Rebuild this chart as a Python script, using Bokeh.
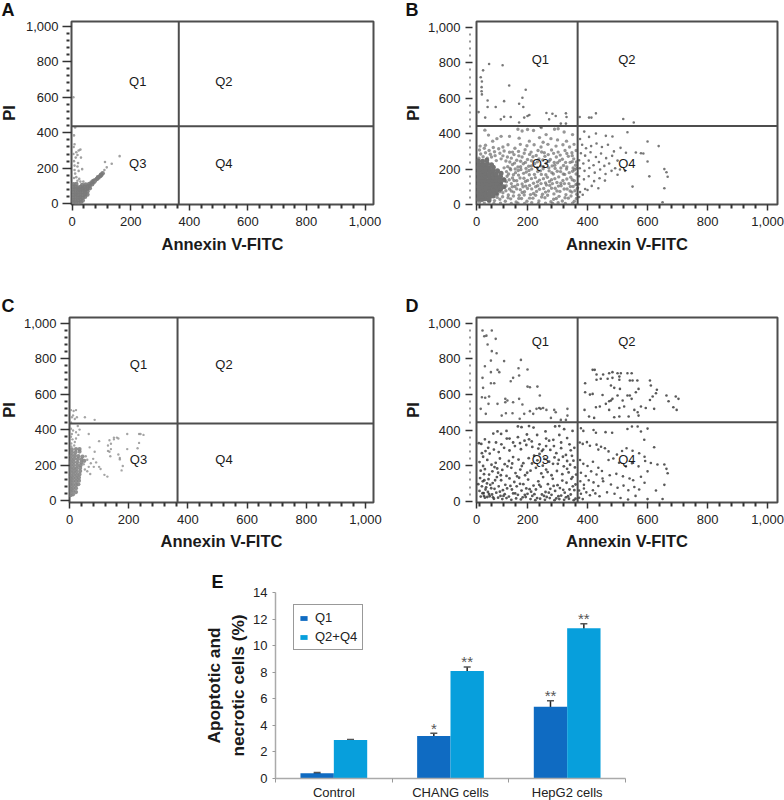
from bokeh.plotting import figure
from bokeh.embed import file_html
from bokeh.resources import INLINE
from bokeh.layouts import column, row
from bokeh.models import (Range1d, FixedTicker, Span, Label, Spacer, Legend, LegendItem,
                          Whisker, TeeHead, ColumnDataSource, Title)
from bokeh.core.properties import value

FONT = "Liberation Sans"
TICKS = [0, 200, 400, 600, 800, 1000]

a_core = [(4,8),(12,6),(22,5),(30,10),(4,22),(12,20),(20,22),(28,24),(36,18),(4,36),(12,38),(20,36),(28,38),(36,34),(44,40),(4,50),(12,52),(20,50),(28,52),(36,50),(44,54),(52,52),(4,66),(12,64),(20,66),(28,66),(36,68),(44,66),(52,70),(4,80),(12,82),(20,80),(28,80),(36,82),(44,80),(52,84),(60,88),(4,96),(12,94),(20,92),(28,94),(36,92),(44,96),(52,98),(60,102),(68,110),(4,110),(14,112),(34,106),(46,108),(58,112),(66,120),(74,122),(78,132),(84,140),(72,128),(90,148),(96,156),(88,150),(100,165),(104,172),(98,162)]
a_sparse = [(112,235),(135,225),(162,268),(118,205),(110,190),(80,125),(18,130),(28,125),(38,125),(6,145),(14,150),(24,140),(10,170),(8,190),(22,185),(34,195),(18,210),(8,215),(6,240),(14,290),(22,300),(28,305),(12,260),(30,260),(20,230),(8,335),(6,385),(10,430),(5,320),(4,280),(4,600),(18,275)]

c_core = [(4,30),(12,35),(4,50),(12,55),(22,48),(4,70),(12,72),(22,70),(4,90),(12,90),(22,88),(30,92),(4,108),(12,110),(22,108),(32,112),(4,126),(12,128),(22,126),(32,130),(4,144),(14,146),(24,144),(34,148),(4,162),(14,164),(24,162),(36,166),(4,180),(14,182),(24,180),(36,184),(4,198),(14,200),(26,198),(38,200),(4,216),(14,218),(26,216),(40,214),(6,234),(16,236),(28,234),(40,232),(50,224),(6,252),(18,254),(30,250),(44,248),(8,270),(20,272),(34,276),(8,288),(22,290),(34,290)]
c_sparse = [(6,305),(16,310),(6,322),(18,330),(10,345),(5,360),(22,350),(8,375),(30,370),(12,395),(5,405),(34,400),(22,385),(28,420),(5,440),(8,470),(14,505),(22,510),(12,480),(5,510),(25,470),(52,470),(85,455),(18,460),(55,250),(60,230),(48,205),(65,190),(72,210),(80,235),(52,175),(60,165),(70,150),(82,190),(90,215),(100,190),(105,178),(118,145),(128,135),(68,300),(65,375),(85,275),(100,335),(130,310),(135,340),(135,275),(140,320),(150,345),(160,355),(165,350),(140,290),(138,250),(165,260),(170,232),(180,195),(176,170),(195,375),(195,290),(235,375),(240,375),(250,370),(235,325),(230,295),(150,355),(170,240),(130,280)]

b_core = [(36,30),(48,28),(60,32),(72,26),(38,48),(50,46),(62,50),(74,44),(86,48),(36,66),(48,64),(60,68),(72,62),(84,66),(96,64),(38,84),(50,82),(62,86),(74,80),(86,84),(98,82),(110,86),(36,102),(48,100),(60,104),(72,98),(84,102),(96,100),(108,104),(120,100),(38,120),(50,118),(62,122),(74,116),(86,120),(98,118),(110,122),(36,138),(48,136),(60,140),(72,134),(84,138),(96,136),(108,140),(122,138),(38,156),(50,154),(62,158),(74,152),(86,156),(98,154),(110,158),(36,174),(48,172),(60,176),(72,170),(84,174),(96,172),(112,176),(38,192),(50,190),(62,194),(74,188),(86,192),(100,190),(36,210),(48,208),(60,212),(72,206),(86,210),(38,228),(52,226),(66,230),(80,224),(36,246),(50,244),(64,250)]
b_q3 = [(38,262),(52,270),(66,262),(80,268),(44,285),(60,292),(76,284),(92,276),(40,308),(56,318),(72,305),(90,298),(108,290),(42,330),(60,335),(86,322),(104,315),(122,302),(140,295),(118,325),(135,338),(158,318),(176,340),(198,332),(222,338),(245,325),(268,340),(295,330),(318,338),(340,325),(355,340),(150,296),(170,300),(192,310),(212,296),(235,305),(256,292),(280,308),(302,296),(325,305),(348,292),(362,305),
(96,248),(112,258),(128,246),(146,262),(164,250),(182,268),(200,254),(218,270),(238,258),(258,272),(276,254),(296,268),(316,256),(336,272),(354,258),
(134,214),(150,226),(168,212),(186,230),(204,216),(224,232),(244,218),(262,234),(282,218),(300,236),(320,220),(342,238),(360,222),
(130,186),(144,196),(160,180),(178,198),(196,184),(214,200),(234,186),(252,202),(272,190),(292,204),(310,186),(330,200),(350,188),(364,204),
(132,160),(150,150),(170,166),(188,148),(206,168),(226,152),(246,170),(266,154),(286,172),(304,156),(324,170),(344,154),(362,172),
(130,128),(146,118),(164,134),(182,116),(200,136),(220,120),(240,138),(260,122),(280,140),(298,124),(318,136),(338,118),(356,134),
(124,96),(140,88),(158,102),(176,84),(194,104),(214,88),(234,106),(254,90),(274,108),(292,92),(312,106),(332,88),(352,102),(366,90),
(100,56),(118,66),(136,54),(154,70),(172,52),(190,72),(210,56),(230,74),(250,58),(270,76),(288,60),(308,74),(328,56),(348,70),(364,58),
(90,22),(108,30),(126,18),(144,32),(162,14),(180,34),(198,18),(218,36),(238,20),(258,38),(278,16),(296,34),(316,20),(336,36),(356,18),
(40,12),(56,8),(72,14),(88,6),(110,8),(146,6),(168,8),(190,6),(214,10),(236,6),(260,8),(284,6),(302,10),(326,6),(350,8),
(84,358),(98,372),(112,385),(70,392),(58,420),(168,425),(182,415),(200,424),(220,418),(140,385),(172,375),(240,378),(206,358),(252,352),(278,372),(300,365),(330,358),(350,395),(290,425),(302,428),(262,395),(322,410),(246,435),
(118,275),(133,268),(155,282),(171,275),(189,290),(207,283),(229,277),(247,297),(269,282),(287,289),(309,279),(331,288),(349,276),(141,240),(157,234),(177,244),(193,238),(213,247),(233,241),(251,252),(271,244),(289,238),(307,247),(327,238),(349,242),(363,240),
(122,207),(142,204),(159,201),(177,213),(195,204),(213,218),(233,208),(253,214),(271,207),(291,222),(311,206),(331,212),(352,206),(137,172),(153,168),(169,192),(187,176),(205,192),(223,170),(243,190),(261,168),(281,180),(299,188),(319,172),(339,180),(357,196),
(121,146),(139,140),(155,136),(175,150),(193,130),(213,146),(233,128),(253,146),(273,130),(291,146),(311,120),(331,144),(349,140),(365,116),(113,118),(129,106),(149,100),(167,112),(185,100),(207,108),(227,100),(245,118),(263,110),(283,118),(303,104),(323,118),(343,102),(361,112),
(108,72),(128,78),(146,76),(164,88),(182,68),(200,90),(220,62),(240,86),(260,70),(280,92),(298,76),(322,88),(342,76),(358,78),(99,40),(117,44),(135,38),(153,48),(171,34),(189,54),(207,36),(227,52),(247,42),(267,52),(287,30),(305,46),(325,38),(345,48),(363,34)]
b_q4 = [(389,412),(428,401),(405,382),(461,388),(483,384),(533,408),(600,356),(637,330),(578,290),(586,288),(561,294),(600,243),(656,200),(663,182),(667,157),(606,159),(656,92),(550,101),(650,13),(375,370),(382,338),(395,318),(412,330),(430,345),(448,325),(468,338),(488,300),(510,320),(528,292),(378,290),(392,276),(410,295),(428,268),(445,288),(462,262),(482,275),(500,248),(372,250),(386,232),(404,248),(420,222),(438,240),(456,218),(472,232),(492,205),(508,198),(525,190),(374,205),(390,190),(406,206),(424,180),(442,198),(460,172),(480,190),(500,168),(372,160),(388,142),(404,160),(422,132),(440,148),(458,135),(372,115),(392,88),(414,105),(436,92),(375,70),(384,55),(400,82),(372,42),(368,95)]
b_q1q2 = [(72,794),(117,787),(52,758),(44,719),(48,695),(139,672),(194,648),(47,663),(47,640),(48,622),(67,588),(122,584),(183,603),(172,569),(186,551),(37,522),(67,551),(94,551),(59,491),(111,481),(122,496),(144,494),(189,491),(200,500),(206,506),(263,517),(283,513),(294,500),(328,515),(330,494),(272,481),(311,457),(328,457),(172,463),(244,438),(374,494),(405,491),(413,491),(428,515),(519,483),(554,463)]

d_q1 = [(50,959),(81,959),(56,927),(63,930),(94,912),(67,880),(81,843),(97,831),(122,787),(178,794),(78,790),(58,758),(78,725),(100,738),(106,725),(170,747),(172,706),(200,740),(152,693),(144,674),(50,693),(78,663),(89,663),(200,644),(208,640),(233,644),(52,637),(48,584),(59,581),(72,588),(241,594),(126,575),(133,566),(172,575),(152,556),(183,543),(70,547),(100,547),(126,556),(44,519),(61,491),(114,481),(128,494),(150,494),(189,491),(208,506),(239,524),(263,513),(289,513),(294,500),(333,519),(333,481),(278,468),(174,463),(311,457),(328,457),(219,491),(230,519),(244,519),(252,524)]
d_q2 = [(417,738),(424,738),(430,712),(444,688),(452,712),(472,719),(483,725),(500,719),(511,719),(533,719),(547,719),(467,688),(483,693),(506,700),(506,682),(541,678),(550,678),(566,678),(608,678),(392,663),(430,682),(417,603),(408,599),(392,612),(450,597),(478,650),(489,637),(508,631),(541,594),(533,594),(500,594),(483,575),(472,562),(517,566),(547,575),(570,631),(561,612),(611,650),(631,626),(628,607),(617,588),(608,569),(663,594),(694,588),(703,575),(670,562),(686,528),(697,513),(390,513),(428,528),(441,532),(472,513),(506,524),(522,532),(556,513),(567,500),(578,532),(594,524),(622,519),(405,476),(422,468),(489,472),(506,476),(537,476),(570,481),(461,547),(478,566)]
d_q4 = [(548,420),(567,420),(600,408),(533,406),(578,392),(589,345),(622,303),(611,215),(633,206),(656,206),(663,182),(667,157),(656,92),(628,60),(650,13),(378,410),(386,395),(420,400),(428,385),(460,388),(482,385),(374,330),(384,322),(398,332),(408,312),(430,318),(445,306),(458,298),(436,290),(470,280),(498,262),(515,282),(530,298),(550,284),(572,270),(590,250),(375,232),(386,210),(400,198),(418,222),(436,188),(448,170),(470,232),(486,240),(505,216),(528,196),(548,214),(570,196),(592,226),(378,160),(394,142),(412,168),(430,150),(450,128),(474,146),(496,154),(518,140),(540,128),(552,118),(578,138),(600,168),(376,112),(388,92),(404,118),(420,106),(436,86),(452,112),(478,94),(500,76),(520,88),(536,62),(556,80),(572,66),(590,104),(372,60),(378,42),(388,72),(396,50),(408,34),(418,62),(426,44),(440,28),(465,50),(490,42),(510,18),(535,10),(560,30),(600,12),(372,20),(384,12)]
d_q3 = [(38,326),(46,322),(58,348),(72,332),(86,380),(100,392),(112,378),(130,395),(168,420),(180,416),(205,422),(220,414),(292,420),(306,422),(260,392),(322,405),(350,395),(140,352),(168,360),(190,340),(205,348),(232,372),(262,352),(286,345),(306,372),(332,355),(356,300),
(48,270),(60,282),(74,268),(88,290),(104,276),(122,300),(140,285),(158,310),(178,292),(196,316),(216,305),(236,296),(248,282),(262,310),(276,288),(296,270),(312,298),(328,260),(344,286),(348,255),
(40,220),(52,198),(66,232),(80,205),(94,216),(108,240),(124,208),(138,226),(152,248),(170,234),(186,214),(204,242),(222,256),(240,266),(256,238),(272,222),(290,246),(304,232),(318,250),(332,226),(342,205),(358,190),
(44,172),(58,180),(72,150),(90,192),(102,160),(116,176),(130,142),(146,188),(160,158),(176,178),(192,146),(210,172),(228,188),(246,156),(262,178),(280,146),(298,170),(316,152),(332,182),(350,136),(362,150),
(42,130),(56,118),(70,124),(84,102),(98,136),(112,118),(126,92),(140,128),(156,108),(172,132),(186,96),(202,122),(220,88),(236,112),(252,136),(268,96),(284,126),(300,90),(316,116),(330,104),(346,126),(360,94),
(36,96),(48,84),(62,78),(76,92),(90,70),(104,84),(118,62),(132,72),(148,66),(164,84),(180,60),(196,72),(212,54),(228,66),(244,82),(260,52),(276,70),(292,58),(308,74),(324,48),(340,66),(356,62),
(40,58),(54,46),(68,52),(82,38),(96,48),(110,30),(124,40),(138,26),(152,44),(168,36),(184,22),(200,42),(216,30),(232,18),(248,38),(264,24),(280,36),(296,16),(312,32),(328,22),(344,38),(360,14),
(44,26),(58,20),(66,24),(74,28),(88,14),(102,20),(116,12),(130,18),(146,8),(162,16),(178,10),(194,24),(210,12),(226,6),(242,14),(258,8),(274,18),(290,6),(306,12),(322,8),(338,14),(354,6),
(51,112),(65,100),(79,73),(55,30),(85,22),(60,66),(72,40),(50,45),(92,118),(108,54),(120,30),(143,86),(159,44),(175,98),(191,36),(207,68),(223,40),(239,92),(255,30),(271,48),(287,86),(303,28),(319,64),(335,28),(351,84),
(55,152),(83,168),(99,184),(111,146),(133,196),(149,212),(165,140),(181,198),(199,160),(215,212),(233,230),(251,200),(267,164),(285,210),(301,210),(321,196),(337,162),(353,228),
(52,250),(69,300),(95,330),(113,320),(131,352),(152,330),(175,326),(198,375),(214,336),(240,320),(252,290),(272,340),(288,310),(312,330),(340,320)]

categories = ["Control", "CHANG cells", "HepG2 cells"]
q1_values = [0.4, 3.2, 5.4]
q24_values = [2.9, 8.1, 11.3]
q1_err = [0.05, 0.2, 0.45]
q24_err = [0.03, 0.3, 0.35]
stars_q1 = ["", "*", "**"]
stars_q24 = ["", "**", "**"]


def letter(p, text, offset, standoff):
    p.add_layout(Title(text=text, align="left", offset=offset, standoff=standoff, text_font=FONT,
                       text_font_size="18px", text_font_style="bold", text_color="#111111"), "above")


def flow(w, h, l, r, t, b, xr, yr, xticks, xover, tick_in, tick_out, lab_gap, name_gap, pi_gap, mark, mark_x, margin):
    p = figure(width=w, height=h, x_range=Range1d(*xr), y_range=Range1d(*yr), toolbar_location=None,
               output_backend="svg", min_border_left=l, min_border_right=r, min_border_top=t,
               min_border_bottom=b, background_fill_color="white", border_fill_color=None, margin=margin)
    p.grid.visible = False
    p.outline_line_color = "#4d4d4d"
    p.outline_line_width = 2
    minor = [v for v in range(40, 1001, 40) if v % 200]
    p.xaxis.ticker = FixedTicker(ticks=xticks, minor_ticks=minor)
    p.yaxis.ticker = FixedTicker(ticks=TICKS, minor_ticks=minor)
    p.xaxis.major_label_overrides = {**xover, 1000: "1,000"}
    p.yaxis.major_label_overrides = {1000: "1,000"}
    for ax in (p.xaxis[0], p.yaxis[0]):
        ax.axis_line_color = None
        ax.major_tick_line_color = "#333333"
        ax.minor_tick_line_color = "#333333"
        ax.major_tick_line_width = 1.5
        ax.minor_tick_line_width = 2
        ax.major_label_text_font = FONT
        ax.major_label_text_font_size = "13px"
        ax.major_label_text_color = "#222222"
        ax.axis_label_text_font = FONT
        ax.axis_label_text_font_style = "bold"
        ax.axis_label_text_color = "#1a1a1a"
        ax.axis_label_text_font_size = "16.5px"
    p.xaxis.major_tick_in = 0
    p.xaxis.major_tick_out = 6
    p.xaxis.minor_tick_in = 0
    p.xaxis.minor_tick_out = 4
    p.xaxis.major_label_standoff = 6
    p.xaxis.axis_label = "Annexin V-FITC"
    p.xaxis.axis_label_standoff = name_gap
    p.yaxis.major_tick_in = tick_in
    p.yaxis.major_tick_out = tick_out
    p.yaxis.minor_tick_in = tick_in - 2
    p.yaxis.minor_tick_out = tick_out - 4
    p.yaxis.major_label_standoff = lab_gap
    p.yaxis.axis_label = "PI"
    p.yaxis.axis_label_standoff = pi_gap
    letter(p, mark, mark_x, 3)
    return p


def points(p, pts, size, color, alpha=0.85):
    p.scatter([v[0] for v in pts], [v[1] for v in pts], size=size, color=color, alpha=alpha, line_color=None)


def gates(p, vx, hy, labels):
    p.add_layout(Span(location=vx, dimension="height", line_color="#4d4d4d", line_width=2))
    p.add_layout(Span(location=hy, dimension="width", line_color="#4d4d4d", line_width=2))
    for (x, y, t) in labels:
        p.add_layout(Label(x=x, y=y, text=t, text_font=FONT, text_font_size="13px", text_color="#1a1a1a",
                           text_align="center", text_baseline="middle"))


# Panel A
pa = flow(397, 294, 76, 19, 25, 86, (-2.4, 1029), (-4, 1026), TICKS, {}, 0, 9, 4, 6, 5, "A", -70, (-4, 0, 0, -5))
points(pa, a_core, 4.5, "#7a7a7a", 0.9)
points(pa, a_sparse, 2.6, "#8a8a8a", 0.8)
gates(pa, 364, 436, [(224, 688, "Q1"), (518, 688, "Q2"), (224, 229, "Q3"), (518, 229, "Q4")])

# Panel B
pb = flow(392, 294, 84, 7, 24, 86, (30, 1033), (0, 1034), [30, 200, 400, 600, 800, 1000], {30: "0"},
          -4, 11, 5, 6, 3, "B", -71, (-4, 0, 0, 0))
points(pb, b_core, 5, "#727272", 1)
points(pb, b_q3, 3.4, "#6a6a6a", 0.7)
points(pb, b_q4, 2.6, "#555555", 0.8)
points(pb, b_q1q2, 2.6, "#555555", 0.8)
gates(pb, 367, 444, [(243, 818, "Q1"), (531, 818, "Q2"), (243, 232, "Q3"), (531, 232, "Q4")])

# Panel C
pc = flow(397, 270, 74, 19, 27, 58, (0, 1027), (-11, 1032), TICKS, {}, 0, 9, 4, 5, 3, "C", -68, (0, 0, 0, -5))
points(pc, c_core, 4.2, "#858585", 0.9)
points(pc, c_sparse, 2.4, "#8f8f8f", 0.8)
gates(pc, 365, 434, [(233, 767, "Q1"), (522, 767, "Q2"), (233, 229, "Q3"), (522, 229, "Q4")])

# Panel D
pd_ = flow(392, 270, 84, 7, 27, 58, (30, 1033), (-7, 1032), [30, 200, 400, 600, 800, 1000], {30: "0"},
           -4, 11, 5, 5, 3, "D", -71, (0, 0, 0, 0))
points(pd_, d_q3, 2.8, "#303030", 0.8)
points(pd_, d_q4, 2.6, "#303030", 0.8)
points(pd_, d_q1, 2.6, "#3a3a3a", 0.75)
points(pd_, d_q2, 2.6, "#303030", 0.8)
gates(pd_, 367, 444, [(243, 895, "Q1"), (531, 895, "Q2"), (243, 232, "Q3"), (531, 232, "Q4")])

# Panel E
pe = figure(width=450, height=242, x_range=Range1d(0, 3), y_range=Range1d(0, 14), toolbar_location=None,
            output_backend="svg", min_border_left=85, min_border_right=15, min_border_top=32,
            min_border_bottom=24, border_fill_color=None)
pe.grid.visible = False
pe.outline_line_color = None
centers = [0.5, 1.5, 2.5]
q1_x = [c - 0.143 for c in centers]
q24_x = [c + 0.143 for c in centers]
b1 = pe.vbar(x=q1_x, top=q1_values, width=0.286, color="#0f6bc2", line_color=None)
b2 = pe.vbar(x=q24_x, top=q24_values, width=0.286, color="#079fdc", line_color=None)
s1 = ColumnDataSource(dict(x=q1_x, u=[v + e for v, e in zip(q1_values, q1_err)], l=[v - e for v, e in zip(q1_values, q1_err)]))
s2 = ColumnDataSource(dict(x=q24_x, u=[v + e for v, e in zip(q24_values, q24_err)], l=[v - e for v, e in zip(q24_values, q24_err)]))
for s in (s1, s2):
    pe.add_layout(Whisker(base="x", upper="u", lower="l", source=s, line_color="#222222", line_width=1.5,
                          upper_head=TeeHead(size=7, line_color="#555555", line_width=1.5),
                          lower_head=TeeHead(size=7, line_color="#222222", line_width=1.5)))
pe.text(q1_x, [v + e + 0.4 for v, e in zip(q1_values, q1_err)], text=stars_q1, text_font=value(FONT),
        text_font_size="15px", text_color="#555555", text_align="center", text_baseline="middle")
pe.text(q24_x, [v + e + 0.4 for v, e in zip(q24_values, q24_err)], text=stars_q24, text_font=value(FONT),
        text_font_size="15px", text_color="#555555", text_align="center", text_baseline="middle")
pe.xaxis.ticker = FixedTicker(ticks=centers, minor_ticks=[0, 1, 2, 3])
pe.xaxis.major_label_overrides = dict(zip(centers, categories))
pe.xaxis.major_tick_line_color = None
pe.xaxis.major_tick_out = 0
pe.xaxis.major_tick_in = 0
pe.xaxis.minor_tick_line_color = "#999999"
pe.xaxis.minor_tick_in = 0
pe.xaxis.minor_tick_out = 4
pe.xaxis.axis_line_color = "#aaaaaa"
pe.xaxis.axis_line_width = 1.5
pe.xaxis.major_label_standoff = 2
pe.yaxis.ticker = FixedTicker(ticks=list(range(0, 15, 2)))
pe.yaxis.axis_line_color = "#aaaaaa"
pe.yaxis.axis_line_width = 1.5
pe.yaxis.major_tick_line_color = "#999999"
pe.yaxis.major_tick_in = 0
pe.yaxis.major_tick_out = 3
pe.yaxis.minor_tick_line_color = None
pe.yaxis.major_label_standoff = 5
pe.yaxis.axis_label = "Apoptotic and\nnecrotic cells (%)"
pe.yaxis.axis_label_text_font = FONT
pe.yaxis.axis_label_text_font_style = "bold"
pe.yaxis.axis_label_text_font_size = "17.3px"
pe.yaxis.axis_label_text_color = "#1a1a1a"
pe.yaxis.axis_label_standoff = 2
for ax in (pe.xaxis[0], pe.yaxis[0]):
    ax.major_label_text_font = FONT
    ax.major_label_text_font_size = "13px"
    ax.major_label_text_color = "#222222"
legend = Legend(items=[LegendItem(label="Q1", renderers=[b1]), LegendItem(label="Q2+Q4", renderers=[b2])],
                location=(18, 128), orientation="vertical", border_line_color="#333333", border_line_width=1.5,
                glyph_width=9, glyph_height=6, label_text_font=FONT, label_text_font_size="13px",
                label_text_color="#222222", padding=5, spacing=4, margin=0, label_standoff=7, label_height=13,
                background_fill_alpha=1)
pe.add_layout(legend)
letter(pe, "E", -64, 2)

root = column(row(pa, pb), row(pc, pd_), row(Spacer(width=190, height=240), pe), margin=(0, 0, 0, 0))
open("out.html", "w").write(file_html(root, INLINE))
